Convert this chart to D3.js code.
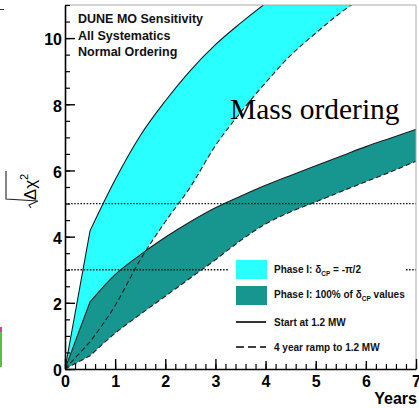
<!DOCTYPE html>
<html>
<head>
<meta charset="utf-8">
<script src="https://cdn.jsdelivr.net/npm/d3@7"></script>
<style>
  body { margin: 0; background: #fff; }
  svg { display: block; font-family: "Liberation Sans", Arial, sans-serif; }
</style>
</head>
<body>
<div id="chart"></div>
<script>
// exposure years (x), sqrt(delta chi^2)
var years = [0, 0.5, 1, 1.5, 2, 2.5, 3, 3.5, 4, 4.5, 5, 5.5, 6, 6.5, 7];

// delta_CP = -pi/2 band
var cyanStart = [0, 4.18, 5.72, 7.05, 8.1, 9.02, 9.8, 10.45, 11.05, 11.6];
var cyanRamp  = [0, 0.82, 1.92, 3.3, 4.45, 5.5, 6.75, 7.75, 8.65, 9.48, 10.15, 10.77, 11.3];

// 100% of delta_CP values band
var tealStart = [0, 2.03, 2.85, 3.45, 3.98, 4.45, 4.87, 5.22, 5.55, 5.85, 6.14, 6.43, 6.72, 6.98, 7.24];
var tealRamp  = [0, 0.40, 1.08, 1.65, 2.2, 2.75, 3.3, 3.88, 4.38, 4.75, 5.05, 5.36, 5.66, 5.96, 6.28];

var sigmaLines = [3, 5];
var titleLines = ["DUNE MO Sensitivity", "All Systematics", "Normal Ordering"];
var xTicks = [0, 1, 2, 3, 4, 5, 6, 7];
var yTicks = [0, 2, 4, 6, 8, 10];

var CYAN = "#2affff";
var TEAL = "#17968f";
var EDGE = "#1c1c1c";

var W = 419, H = 408;
var x = d3.scaleLinear().domain([0, 7]).range([65, 416]);
var y = d3.scaleLinear().domain([0, 11]).range([369, 5]);
var yMax = y.domain()[1];

var svg = d3.select("#chart").append("svg")
    .attr("width", W)
    .attr("height", H);

svg.append("clipPath").attr("id", "plotclip")
  .append("rect")
    .attr("x", x(0)).attr("y", y(yMax))
    .attr("width", x(7) - x(0)).attr("height", y(0) - y(yMax));

var plot = svg.append("g").attr("clip-path", "url(#plotclip)");

// first half-year is a straight segment, the rest smooth
function bandPath(lo, hi) {
    var pts = [];
    for (var i = 0; i < lo.length; i++) {
        pts.push({ t: years[i], lo: lo[i], hi: (hi[i] !== undefined ? hi[i] : yMax) });
    }
    var area = d3.area()
        .x(function(d){ return x(d.t); })
        .y0(function(d){ return y(d.lo); })
        .y1(function(d){ return y(d.hi); });
    var head = area(pts.slice(0, 2));
    var tail = area.curve(d3.curveMonotoneX)(pts.slice(1));
    return head + tail;
}

function edgePath(vals) {
    var pts = vals.map(function(v, i){ return [x(years[i]), y(v)]; });
    var line = d3.line().curve(d3.curveMonotoneX);
    return "M" + pts[0][0] + "," + pts[0][1] + line(pts.slice(1)).replace("M", "L");
}

plot.append("path").attr("d", bandPath(cyanRamp, cyanStart)).attr("fill", CYAN);
plot.append("path").attr("d", bandPath(tealRamp, tealStart)).attr("fill", TEAL);

var edges = [
    { v: cyanStart, dash: null },
    { v: cyanRamp, dash: "5,3" },
    { v: tealStart, dash: null },
    { v: tealRamp, dash: "5,3" }
];
plot.selectAll(".edge").data(edges).enter().append("path")
    .attr("class", "edge")
    .attr("d", function(d){ return edgePath(d.v); })
    .attr("fill", "none")
    .attr("stroke", EDGE)
    .attr("stroke-width", 1.1)
    .attr("stroke-dasharray", function(d){ return d.dash; });

// 3 and 5 sigma
plot.selectAll(".sigma").data(sigmaLines).enter().append("line")
    .attr("class", "sigma")
    .attr("x1", x(0)).attr("x2", x(7))
    .attr("y1", function(d){ return y(d); })
    .attr("y2", function(d){ return y(d); })
    .attr("stroke", "#111")
    .attr("stroke-width", 1.3)
    .attr("stroke-dasharray", "1.5,1.6");

// frame
svg.append("path")
    .attr("d", "M" + x(0) + "," + y(yMax) + "H" + x(7) + "V" + y(0))
    .attr("fill", "none").attr("stroke", "#aaa").attr("stroke-width", 1);

// axes, ticks pointing inward
function styleAxis(g) {
    g.attr("font-family", null).attr("font-size", null);
    g.select(".domain").attr("stroke", "#000").attr("stroke-width", 1.6);
    g.selectAll(".tick line").attr("stroke", "#000").attr("stroke-width", 1.4);
    g.selectAll("text")
        .style("font-family", "'Liberation Sans', Arial, sans-serif")
        .style("font-weight", "bold")
        .style("font-size", "16px")
        .attr("fill", "#000");
}

svg.append("g")
    .attr("transform", "translate(0," + y(0) + ")")
    .call(d3.axisBottom(x).tickValues(d3.range(0, 7.01, 0.2)).tickSize(-5).tickFormat(""))
    .call(function(g){ g.select(".domain").remove(); g.selectAll("line").attr("stroke", "#000").attr("stroke-width", 1.2); });
svg.append("g")
    .attr("transform", "translate(0," + y(0) + ")")
    .call(d3.axisBottom(x).tickValues(xTicks).tickSize(-10).tickSizeOuter(0).tickPadding(7).tickFormat(d3.format("d")))
    .call(styleAxis);

svg.append("g")
    .attr("transform", "translate(" + x(0) + ",0)")
    .call(d3.axisLeft(y).tickValues(d3.range(0, 11.01, 0.5)).tickSize(-5).tickFormat(""))
    .call(function(g){ g.select(".domain").remove(); g.selectAll("line").attr("stroke", "#000").attr("stroke-width", 1.2); });
svg.append("g")
    .attr("transform", "translate(" + x(0) + ",0)")
    .call(d3.axisLeft(y).tickValues(yTicks).tickSize(-10).tickSizeOuter(0).tickPadding(3).tickFormat(d3.format("d")))
    .call(styleAxis)
    .call(function(g){ g.selectAll("text").attr("dy", "0.42em"); });

svg.append("text")
    .attr("x", 417).attr("y", 404)
    .attr("text-anchor", "end")
    .style("font-weight", "bold").style("font-size", "16px")
    .text("Years");

// y axis title: sqrt(delta chi^2)
var yl = svg.append("g").attr("transform", "translate(36,190) rotate(-90)");
var ylt = yl.append("text")
    .attr("x", 3).attr("y", 0)
    .attr("text-anchor", "middle")
    .style("font-size", "17px");
ylt.append("tspan").text("Δχ");
ylt.append("tspan").attr("dy", -8).style("font-size", "11px").text("2");
yl.append("path")
    .attr("d", "M-18,-5 L-15,-7 L-11,2 L-9,-30 L19,-30")
    .attr("fill", "none").attr("stroke", "#222").attr("stroke-width", 1.1);

// header
svg.selectAll(".title").data(titleLines).enter().append("text")
    .attr("class", "title")
    .attr("x", 78)
    .attr("y", function(d, i){ return 23 + i * 16.5; })
    .style("font-weight", "bold")
    .style("font-size", "12.5px")
    .attr("fill", "#111")
    .text(function(d){ return d; });

svg.append("text")
    .attr("x", 230).attr("y", 119)
    .style("font-family", "'Liberation Serif', 'Times New Roman', serif")
    .style("font-size", "29.5px")
    .attr("fill", "#000")
    .text("Mass ordering");

// legend
var lg = svg.append("g");
lg.append("rect").attr("x", 229).attr("y", 255).attr("width", 177).attr("height", 106).attr("fill", "#fff");
lg.append("rect").attr("x", 236).attr("y", 260).attr("width", 31).attr("height", 19).attr("fill", CYAN);
lg.append("rect").attr("x", 236).attr("y", 286).attr("width", 31).attr("height", 19).attr("fill", TEAL);
lg.append("line").attr("x1", 236).attr("x2", 266).attr("y1", 322).attr("y2", 322)
    .attr("stroke", "#000").attr("stroke-width", 1.6);
lg.append("line").attr("x1", 236).attr("x2", 266).attr("y1", 347).attr("y2", 347)
    .attr("stroke", "#000").attr("stroke-width", 1.6).attr("stroke-dasharray", "8,4");

function legendText(yy) {
    return lg.append("text").attr("x", 274).attr("y", yy)
        .style("font-weight", "bold").style("font-size", "10px").attr("fill", "#111");
}
var t1 = legendText(273);
t1.append("tspan").text("Phase I: δ");
t1.append("tspan").attr("dy", 3).style("font-size", "6.5px").text("CP");
t1.append("tspan").attr("dy", -3).text(" = -π/2");
var t2 = legendText(298);
t2.append("tspan").text("Phase I: 100% of δ");
t2.append("tspan").attr("dy", 3).style("font-size", "6.5px").text("CP");
t2.append("tspan").attr("dy", -3).text(" values");
legendText(326).text("Start at 1.2 MW");
legendText(351).text("4 year ramp to 1.2 MW");

// bits of neighbouring panels at the left edge
svg.append("line").attr("x1", 0).attr("x2", 4).attr("y1", 9.5).attr("y2", 9.5).attr("stroke", "#333");
svg.append("rect").attr("x", 0).attr("y", 327).attr("width", 2).attr("height", 5).attr("fill", "#d040b0");
svg.append("rect").attr("x", 0).attr("y", 332).attr("width", 2).attr("height", 35).attr("fill", "#58c040");
</script>
</body>
</html>
